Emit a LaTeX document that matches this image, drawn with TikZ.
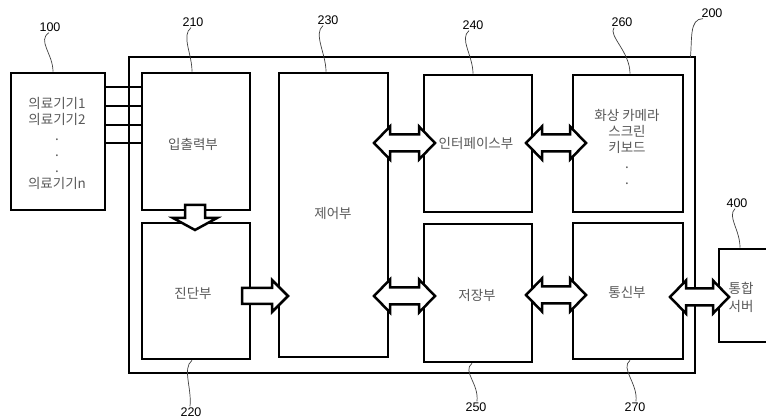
\documentclass[tikz,border=0pt]{standalone}
\usepackage{fontspec}
\setmainfont{Liberation Sans}
\newfontfamily\kr{Noto Sans CJK KR}
\newcommand\dbla[3]{\draw[barr] (#1,#3) -- (#1+16,#3-16.5) -- (#1+16,#3-8.5) -- (#2-16,#3-8.5) -- (#2-16,#3-16.5) -- (#2,#3) -- (#2-16,#3+16.5) -- (#2-16,#3+8.5) -- (#1+16,#3+8.5) -- (#1+16,#3+16.5) -- cycle;}
\begin{document}
\begin{tikzpicture}[x=1pt,y=-1pt,
 box/.style={draw, line width=2.7pt, fill=white, inner sep=0pt},
 outerbox/.style={draw, line width=2.7pt, inner sep=0pt},
 conn/.style={line width=2.7pt},
 barr/.style={draw, line width=2.5pt, fill=white, line join=miter},
 lead/.style={line width=0.7pt, draw=black!75},
 num/.style={font=\fontsize{12.5}{14}\selectfont, inner sep=1pt},
 txt/.style={font=\kr\fontsize{13.5}{16}\selectfont, text=black!65, align=center, inner sep=0pt}]
\useasboundingbox (0,0) rectangle (766,419);
% outer box
\node[outerbox, minimum width=566pt, minimum height=316pt] (m200) at (412,215) {};
% device box
\node[box, minimum width=94pt, minimum height=137pt] (m100) at (58,141.5) {};
% connection lines
\coordinate (c1) at (0,87);
\coordinate (c2) at (0,106);
\coordinate (c3) at (0,125);
\coordinate (c4) at (0,143);
\node[box, minimum width=108pt, minimum height=137pt] (m210) at (196,141.5) {};
\draw[conn] (m100.east |- c1) -- (m210.west |- c1);
\draw[conn] (m100.east |- c2) -- (m210.west |- c2);
\draw[conn] (m100.east |- c3) -- (m210.west |- c3);
\draw[conn] (m100.east |- c4) -- (m210.west |- c4);
% inner boxes
\node[box, minimum width=108pt, minimum height=136pt] (m220) at (196,291) {};
\node[box, minimum width=109pt, minimum height=284pt] (m230) at (333.5,215) {};
\node[box, minimum width=108pt, minimum height=137pt] (m240) at (478,143.5) {};
\node[box, minimum width=108pt, minimum height=138pt] (m250) at (478,293) {};
\node[box, minimum width=110pt, minimum height=137pt] (m260) at (628,143.5) {};
\node[box, minimum width=110pt, minimum height=136pt] (m270) at (628,291) {};
\node[box, minimum width=56pt, minimum height=93pt] (m400) at (747,295.5) {};
% block arrows
\draw[barr] (185,205) -- (205,205) -- (205,218) -- (217,218) -- (195,230) -- (173,218) -- (185,218) -- cycle;
\draw[barr] (242,288) -- (272,288) -- (272,280) -- (288,296) -- (272,312) -- (272,304) -- (242,304) -- cycle;
\dbla{374}{435}{143}
\dbla{526}{586}{143}
\dbla{374}{435}{296}
\dbla{526}{586}{295}
\dbla{670}{729}{297}
% texts
\node[txt] (t100) at (57,143) {의료기기1\\의료기기2\\.\\.\\.\\의료기기n};
\node[txt] (t210) at (193,144) {입출력부};
\node[txt] (t220) at (193,293) {진단부};
\node[txt] (t230) at (333,213) {제어부};
\node[txt] (t240) at (476,143) {인터페이스부};
\node[txt] (t250) at (477,295) {저장부};
\node[txt] (t260) at (627,147) {화상 카메라\\스크린\\키보드\\.\\.};
\node[txt] (t270) at (627,292) {통신부};
\node[txt, font=\kr\fontsize{13.5}{18}\selectfont] (t400) at (741,297) {통합\\서버};
% number labels
\node[num] (l100) at (50,27) {100};
\node[num] (l210) at (193,22) {210};
\node[num] (l230) at (328,20) {230};
\node[num] (l240) at (473,25) {240};
\node[num] (l260) at (622,22) {260};
\node[num] (l200) at (712,13) {200};
\node[num] (l400) at (737,203) {400};
\node[num] (l220) at (191,412) {220};
\node[num] (l250) at (476,407) {250};
\node[num] (l270) at (635,407) {270};
% leader lines
\draw[lead] ([xshift=-1pt]l100.south) .. controls +(-12,8) and +(0,-18) .. ([xshift=-5pt]m100.north);
\draw[lead] ([xshift=-2pt]l210.south) .. controls +(-10,8) and +(0,-18) .. ([xshift=-4pt]m210.north);
\draw[lead] ([xshift=-5pt]l230.south) .. controls +(-10,8) and +(0,-18) .. ([xshift=-7.5pt]m230.north);
\draw[lead] ([xshift=-4pt]l240.south) .. controls +(-10,8) and +(0,-18) .. ([xshift=-5pt]m240.north);
\draw[lead] ([xshift=-8pt]l260.south) .. controls +(-6,8) and +(0,-22) .. ([xshift=2pt]m260.north);
\draw[lead] ([xshift=-9pt]l200.south) .. controls +(-14,0) and +(2,-18) .. ([xshift=-6pt,yshift=-2pt]m200.north east);
\draw[lead] ([xshift=-2pt]l400.south) .. controls +(-8,8) and +(0,-18) .. ([xshift=-7pt]m400.north);
\draw[lead] ([xshift=-4pt]m220.south) .. controls +(-10,8) and +(2,-18) .. ([xshift=-1pt]l220.north);
\draw[lead] ([xshift=-6pt]m250.south) .. controls +(-10,8) and +(2,-18) .. ([xshift=1pt]l250.north);
\draw[lead] ([xshift=2pt]m270.south) .. controls +(-10,8) and +(2,-18) .. ([xshift=1pt]l270.north);
\end{tikzpicture}
\end{document}
